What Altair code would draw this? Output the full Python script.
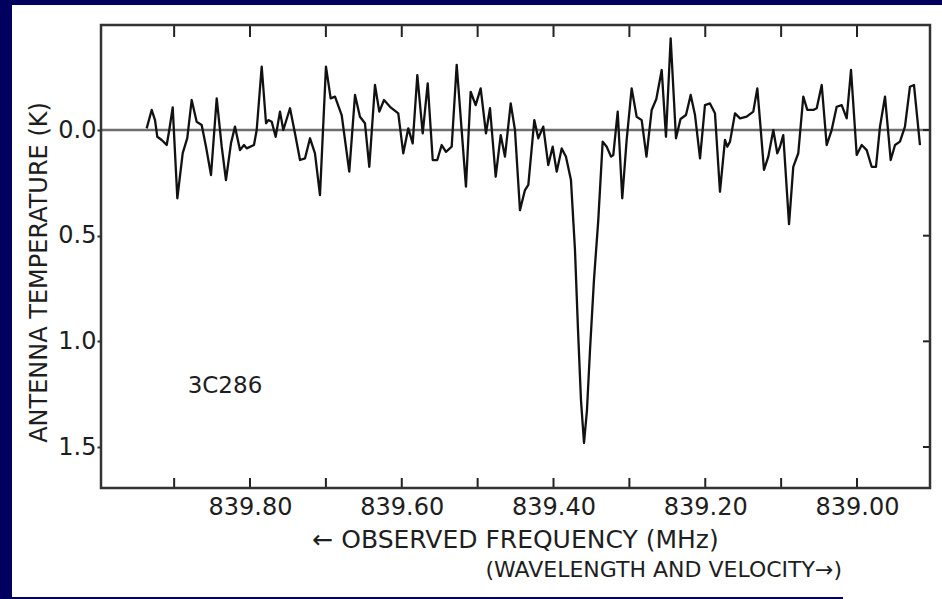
import altair as alt
import pandas as pd

# ---- data ----
freq_mhz = [839.9362, 839.9296, 839.9252, 839.9222, 839.9164, 839.9098, 839.9064, 839.9019, 839.8958, 839.8887,
            839.8827, 839.8769, 839.8703, 839.8637, 839.8580, 839.8514, 839.8439, 839.8373, 839.8317, 839.8251,
            839.8198, 839.8132, 839.8079, 839.8044, 839.7948, 839.7912, 839.7846, 839.7789, 839.7759, 839.7714,
            839.7662, 839.7605, 839.7561, 839.7473, 839.7407, 839.7341, 839.7275, 839.7209, 839.7144, 839.7078,
            839.6999, 839.6937, 839.6880, 839.6792, 839.6692, 839.6616, 839.6551, 839.6485, 839.6428, 839.6353,
            839.6296, 839.6234, 839.6155, 839.6046, 839.5980, 839.5914, 839.5856, 839.5795, 839.5724, 839.5658,
            839.5592, 839.5532, 839.5474, 839.5417, 839.5342, 839.5276, 839.5154, 839.5092, 839.5026, 839.4960,
            839.4890, 839.4837, 839.4762, 839.4696, 839.4640, 839.4564, 839.4508, 839.4442, 839.4376, 839.4332,
            839.4253, 839.4201, 839.4135, 839.4069, 839.4011, 839.3958, 839.3892, 839.3836, 839.3770, 839.3717,
            839.3677, 839.3638, 839.3598, 839.3559, 839.3519, 839.3467, 839.3410, 839.3352, 839.3299, 839.3242,
            839.3212, 839.3154, 839.3094, 839.3036, 839.2970, 839.2904, 839.2838, 839.2775, 839.2706, 839.2645,
            839.2574, 839.2518, 839.2456, 839.2386, 839.2326, 839.2254, 839.2192, 839.2135, 839.2069, 839.2004,
            839.1938, 839.1872, 839.1806, 839.1740, 839.1710, 839.1674, 839.1608, 839.1542, 839.1454, 839.1367,
            839.1314, 839.1279, 839.1226, 839.1169, 839.1103, 839.1051, 839.1015, 839.0972, 839.0896, 839.0840,
            839.0774, 839.0708, 839.0655, 839.0576, 839.0531, 839.0465, 839.0400, 839.0334, 839.0268, 839.0202,
            839.0136, 839.0079, 839.0004, 838.9938, 838.9872, 838.9807, 838.9750, 838.9697, 838.9631, 838.9556,
            838.9499, 838.9434, 838.9368, 838.9302, 838.9249, 838.9170]

antenna_temp = [-0.008, -0.095, -0.047, 0.032, 0.047, 0.071, 0.000, -0.107, 0.323, 0.109,
                0.038, -0.142, -0.039, -0.024, 0.079, 0.213, -0.150, 0.079, 0.237, 0.063,
                -0.016, 0.095, 0.071, 0.087, 0.071, 0.000, -0.300, -0.032, -0.047, -0.039,
                0.032, -0.087, 0.000, -0.103, 0.016, 0.142, 0.134, 0.039, 0.110, 0.308,
                -0.300, -0.150, -0.158, -0.071, 0.197, -0.166, -0.063, -0.032, 0.174, -0.213,
                -0.087, -0.142, -0.110, -0.079, 0.110, -0.008, 0.063, -0.260, 0.016, -0.221,
                0.142, 0.142, 0.071, 0.103, 0.079, -0.308, 0.268, -0.181, -0.118, -0.197,
                0.016, -0.103, 0.221, 0.024, 0.126, -0.126, 0.000, 0.379, 0.284, 0.260,
                -0.047, 0.039, -0.016, 0.166, 0.079, 0.197, 0.087, 0.126, 0.237, 0.568,
                0.947, 1.278, 1.481, 1.325, 1.041, 0.710, 0.426, 0.055, 0.079, 0.126,
                0.118, -0.087, 0.323, 0.047, -0.197, -0.063, -0.047, 0.126, -0.095, -0.147,
                -0.284, 0.032, -0.434, 0.039, -0.052, -0.071, -0.166, -0.071, 0.134, -0.118,
                -0.126, -0.079, 0.292, 0.047, 0.079, 0.055, -0.079, -0.055, -0.063, -0.087,
                -0.197, -0.047, 0.189, 0.126, 0.000, 0.110, 0.079, 0.024, 0.445, 0.174,
                0.110, -0.158, -0.095, -0.095, -0.103, -0.213, 0.071, 0.000, -0.110, -0.118,
                -0.055, -0.284, 0.118, 0.071, 0.095, 0.174, 0.174, -0.016, -0.158, 0.142,
                0.071, 0.055, -0.016, -0.205, -0.213, 0.071]

x_tick_values = [839.9, 839.8, 839.7, 839.6, 839.5, 839.4, 839.3, 839.2, 839.1, 839.0]
x_label_values = [839.8, 839.6, 839.4, 839.2, 839.0]
y_tick_values = [0.0, 0.5, 1.0, 1.5]
source_label = "3C286"
source_pos = {"f": 839.833, "t": 1.212}
x_title_line1 = "\u2190 OBSERVED FREQUENCY (MHz)"
x_title_line2 = "(WAVELENGTH AND VELOCITY\u2192)"
y_title = "ANTENNA TEMPERATURE (K)"

x_domain = [838.9038, 839.9964]
y_domain = [-0.497, 1.694]

W, H = 829, 463
FONT = "DejaVu Sans"
INK = "#1e1e1e"

df = pd.DataFrame({"f": freq_mhz, "t": antenna_temp})

xs = alt.Scale(domain=x_domain, reverse=True, nice=False, zero=False)
ys = alt.Scale(domain=y_domain, reverse=True, nice=False, zero=False)

x_axis = alt.Axis(values=x_label_values, format=".2f", ticks=False, tickSize=0, domain=False,
                  grid=False, title=None, labelFont=FONT, labelFontSize=24, labelColor=INK,
                  labelPadding=7, zindex=1)
y_axis = alt.Axis(values=y_tick_values, format=".1f", domain=False, grid=False, ticks=True, tickSize=4,
                  tickWidth=2, tickColor="#333", labelFont=FONT, labelFontSize=24, labelColor=INK,
                  labelPadding=1, title=y_title, titleFont=FONT, titleFontSize=24,
                  titleFontWeight="normal", titleColor=INK, titleX=-62, titleY=247, titleAngle=270,
                  titleAlign="center", titleBaseline="middle", zindex=1)

one = alt.Data(values=[{}])

panel = alt.Chart(one).mark_rect(color="white").encode(
    x=alt.value(-89), x2=alt.value(W + 12), y=alt.value(-20), y2=alt.value(H + 109))
panel2 = alt.Chart(one).mark_rect(color="white").encode(
    x=alt.value(742), x2=alt.value(W + 12), y=alt.value(H + 100), y2=alt.value(H + 111))

zero_line = alt.Chart(alt.Data(values=[{"t": 0.0}])).mark_rule(color="#6e6e6e", strokeWidth=2.5).encode(
    y=alt.Y("t:Q", scale=ys, axis=y_axis))

spectrum = alt.Chart(df).mark_line(color="#111111", strokeWidth=2.3, strokeJoin="round").encode(
    x=alt.X("f:Q", scale=xs, axis=x_axis),
    y=alt.Y("t:Q", scale=ys, axis=y_axis),
)

tick_df = pd.DataFrame({"f": x_tick_values})
top_ticks = alt.Chart(tick_df).mark_rule(color="#222", strokeWidth=2).encode(
    x=alt.X("f:Q", scale=xs), y=alt.value(0), y2=alt.value(12))
bottom_ticks = alt.Chart(tick_df).mark_rule(color="#222", strokeWidth=2).encode(
    x=alt.X("f:Q", scale=xs), y=alt.value(H), y2=alt.value(H - 10))
right_ticks = alt.Chart(pd.DataFrame({"t": y_tick_values})).mark_rule(color="#222", strokeWidth=2).encode(
    y=alt.Y("t:Q", scale=ys), x=alt.value(W - 7), x2=alt.value(W))

frame = alt.Chart(one).mark_rect(fill=None, stroke="#333333", strokeWidth=2.5).encode(
    x=alt.value(0), x2=alt.value(W), y=alt.value(0), y2=alt.value(H))

src = alt.Chart(alt.Data(values=[dict(source_pos, s=source_label)])).mark_text(
    font=FONT, fontSize=23, color=INK, align="center", baseline="middle").encode(
    x=alt.X("f:Q", scale=xs), y=alt.Y("t:Q", scale=ys), text="s:N")

xtitle1 = alt.Chart(alt.Data(values=[{"s": x_title_line1}])).mark_text(
    font=FONT, fontSize=25, color=INK, align="center", baseline="middle").encode(
    x=alt.value(W / 2), y=alt.value(515), text="s:N")
xtitle2 = alt.Chart(alt.Data(values=[{"s": x_title_line2}])).mark_text(
    font=FONT, fontSize=22, color=INK, align="right", baseline="middle").encode(
    x=alt.value(741), y=alt.value(545), text="s:N")

chart = alt.layer(
    panel, panel2, zero_line, spectrum, top_ticks, bottom_ticks, right_ticks, frame, src, xtitle1, xtitle2
).properties(
    width=W, height=H,
    autosize=alt.AutoSizeParams(type="none"),
    padding={"left": 101, "top": 25, "right": 12, "bottom": 111},
    background="#00005e",
).configure_view(stroke=None)

chart.save("out.html", embed_options={"renderer": "svg", "actions": False})
